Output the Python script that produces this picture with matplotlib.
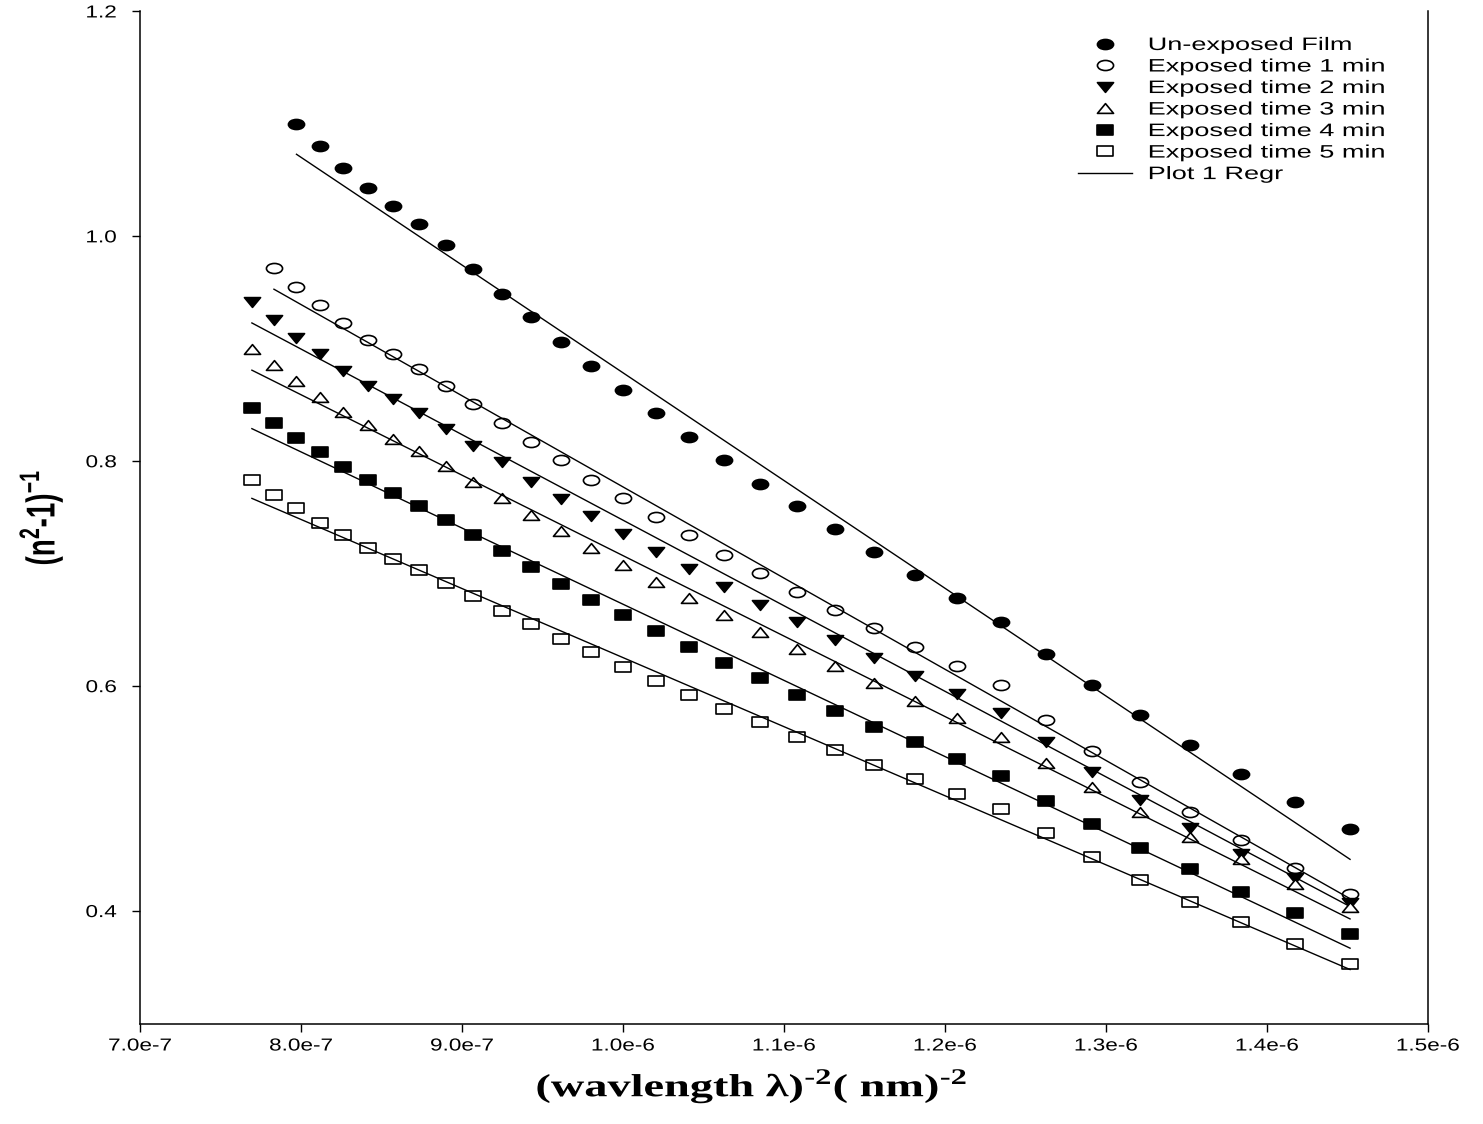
import matplotlib
matplotlib.use("Agg")
import matplotlib.pyplot as plt
from matplotlib.path import Path
from matplotlib.transforms import Affine2D
from matplotlib.patheffects import AbstractPathEffect
from matplotlib.ticker import FuncFormatter

# x axis: (wavelength)^-2 in nm^-2, for wavelengths 1140 nm down to 830 nm
inv_wl2 = [7.695e-7, 7.832e-7, 7.972e-7, 8.116e-7, 8.264e-7, 8.417e-7, 8.573e-7, 8.734e-7,
           8.900e-7, 9.070e-7, 9.246e-7, 9.426e-7, 9.612e-7, 9.803e-7, 1.0000e-6, 1.0203e-6,
           1.0412e-6, 1.0628e-6, 1.0851e-6, 1.1080e-6, 1.1317e-6, 1.1562e-6, 1.1815e-6, 1.2076e-6,
           1.2346e-6, 1.2625e-6, 1.2913e-6, 1.3212e-6, 1.3521e-6, 1.3841e-6, 1.4172e-6, 1.4516e-6]

# (n^2-1)^-1
unexposed = [1.100, 1.080, 1.061, 1.043, 1.027, 1.011, 0.992, 0.971, 0.949, 0.928,
             0.906, 0.885, 0.863, 0.843, 0.822, 0.801, 0.780, 0.760, 0.740, 0.719,
             0.699, 0.678, 0.657, 0.629, 0.601, 0.574, 0.548, 0.522, 0.497, 0.473]
exp_1min = [0.972, 0.955, 0.939, 0.923, 0.908, 0.895, 0.882, 0.867, 0.851, 0.834,
            0.817, 0.801, 0.783, 0.767, 0.750, 0.734, 0.717, 0.701, 0.684, 0.668,
            0.652, 0.635, 0.618, 0.601, 0.570, 0.542, 0.515, 0.488, 0.463, 0.438, 0.415]
exp_2min = [0.942, 0.926, 0.910, 0.895, 0.880, 0.867, 0.855, 0.843, 0.829, 0.814,
            0.799, 0.782, 0.766, 0.751, 0.735, 0.719, 0.704, 0.688, 0.672, 0.657,
            0.641, 0.625, 0.609, 0.593, 0.576, 0.550, 0.524, 0.499, 0.474, 0.451, 0.429, 0.407]
exp_3min = [0.900, 0.886, 0.871, 0.857, 0.844, 0.832, 0.820, 0.809, 0.796, 0.782,
            0.767, 0.752, 0.738, 0.723, 0.708, 0.693, 0.678, 0.663, 0.648, 0.633,
            0.618, 0.603, 0.587, 0.572, 0.555, 0.532, 0.510, 0.488, 0.466, 0.446, 0.424, 0.404]
exp_4min = [0.847, 0.834, 0.821, 0.808, 0.795, 0.783, 0.772, 0.760, 0.748, 0.734,
            0.720, 0.706, 0.691, 0.677, 0.663, 0.649, 0.635, 0.621, 0.607, 0.592,
            0.578, 0.564, 0.550, 0.535, 0.520, 0.498, 0.477, 0.456, 0.437, 0.417, 0.398, 0.380]
exp_5min = [0.783, 0.770, 0.758, 0.745, 0.734, 0.723, 0.713, 0.703, 0.692, 0.680,
            0.667, 0.655, 0.642, 0.630, 0.617, 0.605, 0.592, 0.580, 0.568, 0.555,
            0.543, 0.530, 0.517, 0.504, 0.491, 0.469, 0.448, 0.428, 0.408, 0.390, 0.371, 0.353]

labels = ["Un-exposed Film", "Exposed time 1 min", "Exposed time 2 min",
          "Exposed time 3 min", "Exposed time 4 min", "Exposed time 5 min"]
series = [unexposed, exp_1min, exp_2min, exp_3min, exp_4min, exp_5min]

# regression lines ("Plot 1 Regr"): value at first and last x of each series
regr_start = [1.073, 0.953, 0.923, 0.881, 0.829, 0.767]
regr_end = [0.446, 0.411, 0.404, 0.393, 0.367, 0.348]

xticks = [7.0e-7, 8.0e-7, 9.0e-7, 1.0e-6, 1.1e-6, 1.2e-6, 1.3e-6, 1.4e-6, 1.5e-6]
yticks = [0.4, 0.6, 0.8, 1.0, 1.2]

plt.rcParams["mathtext.fontset"] = "custom"
plt.rcParams["mathtext.rm"] = "Liberation Serif:bold"
plt.rcParams["mathtext.sf"] = "Liberation Sans:bold"


# the original export is stretched sideways, text and symbols alike
class Widen(AbstractPathEffect):
    def __init__(self, sx=1.0, sy=1.0, fx=0.5, fy=0.0):
        super().__init__()
        self.sx, self.sy, self.fx, self.fy = sx, sy, fx, fy

    def draw_path(self, renderer, gc, tpath, affine, rgbFace=None):
        ext = tpath.get_extents()
        px = ext.x0 + self.fx * ext.width
        py = ext.y0 + self.fy * ext.height
        st = Affine2D().translate(-px, -py).scale(self.sx, self.sy).translate(px, py)
        renderer.draw_path(gc, tpath, st + affine, rgbFace)


def squash(verts, sx):
    return Affine2D().scale(sx, 1).transform_path(Path(verts, closed=True))


circle = Affine2D().scale(1.6, 1).transform_path(Path.unit_circle())
tri_down = squash([(0, -1), (-1, 1), (1, 1), (0, -1)], 1.65)
tri_up = squash([(0, 1), (-1, -1), (1, -1), (0, 1)], 1.65)
square = squash([(-1, -1), (1, -1), (1, 1), (-1, 1), (-1, -1)], 1.6)

markers = [circle, circle, tri_down, tri_up, square, square]
faces = ["black", "white", "black", "white", "black", "white"]
sizes = [11.6, 11.6, 11.6, 11.6, 11.8, 11.8]

fig = plt.figure(figsize=(14.83, 11.24), dpi=100)
ax = fig.add_axes([0.0944, 0.0894, 0.8685, 0.9004])

handles = []
for i, ys in enumerate(series):
    xs = inv_wl2[len(inv_wl2) - len(ys):]
    h, = ax.plot(xs, ys, linestyle="none", marker=markers[i], markersize=sizes[i],
                 markerfacecolor=faces[i], markeredgecolor="black", markeredgewidth=1.2)
    handles.append(h)
    line, = ax.plot([xs[0], xs[-1]], [regr_start[i], regr_end[i]], color="black", lw=1.0)
handles.append(line)

ax.set_xlim(7.0e-7, 1.5e-6)
ax.set_ylim(0.3, 1.2)
ax.set_xticks(xticks)
ax.set_yticks(yticks)


def sci(v, pos):
    m, e = f"{v:.1e}".split("e")
    return f"{m}e{int(e)}"


ax.xaxis.set_major_formatter(FuncFormatter(sci))
ax.yaxis.set_major_formatter(FuncFormatter(lambda v, pos: f"{v:.1f}"))

ax.spines["top"].set_visible(False)
for s in ["left", "bottom", "right"]:
    ax.spines[s].set_linewidth(1.1)
ax.tick_params(direction="out", length=5.8, width=1.0, labelsize=12.5)
ax.tick_params(axis="x", pad=5)
ax.tick_params(axis="y", pad=11)
for t in ax.get_xticklabels() + ax.get_yticklabels():
    t.set_fontfamily("Liberation Sans")
for t in ax.get_xticklabels():
    t.set_path_effects([Widen(sx=1.3, fx=0.5)])
for t in ax.get_yticklabels():
    t.set_path_effects([Widen(sx=1.3, fx=1.0)])

xl = ax.set_xlabel(r"(wavlength λ)$^{\text{-2}}$( nm)$^{\text{-2}}$", fontsize=23,
                   fontfamily="Liberation Serif", fontweight="bold")
ax.xaxis.set_label_coords(0.4752, -0.043)
xl.set_path_effects([Widen(sx=1.45, fx=0.5)])

yl = ax.set_ylabel(r"(n$^{\mathsf{2}}$-1)$^{\mathsf{-1}}$", fontsize=20,
                   fontfamily="Liberation Sans", fontweight="bold")
ax.yaxis.set_label_coords(-0.058, 0.5)
yl.set_path_effects([Widen(sy=1.45, fy=0.0)])

leg = ax.legend(handles, labels + ["Plot 1 Regr"], loc="upper left",
                bbox_to_anchor=(1078 / 1483, 1 - 37 / 1124), bbox_transform=fig.transFigure,
                frameon=False, borderpad=0, borderaxespad=0, handlelength=3.0,
                handletextpad=0.9, labelspacing=0.25, numpoints=1,
                prop={"family": "Liberation Sans", "size": 13})
for t in leg.get_texts():
    t.set_path_effects([Widen(sx=1.5, fx=0.0)])

fig.savefig("out.png", dpi=100)
